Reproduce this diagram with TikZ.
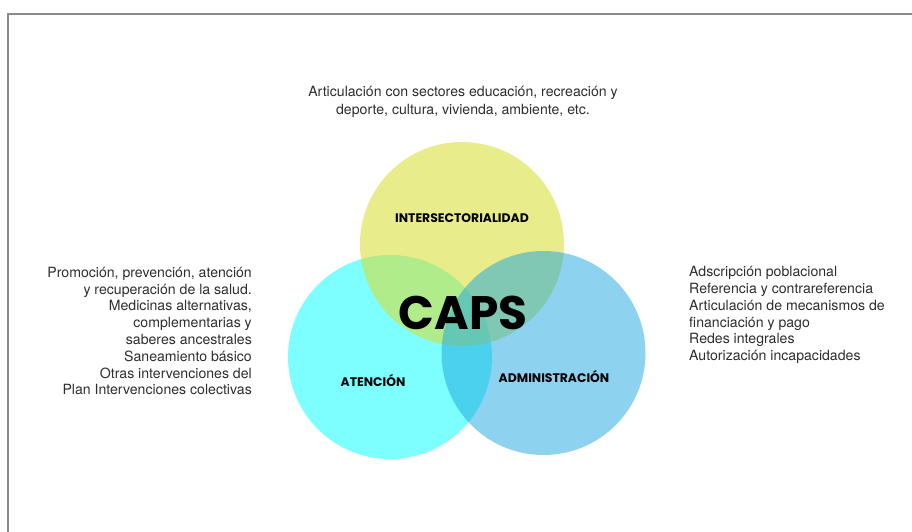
\documentclass[tikz,border=0pt]{standalone}
\usepackage{fontspec}
\setmainfont{TeX Gyre Heros}
\newfontfamily\capsfont{Poppins}
\usepackage{tikz}

\definecolor{framegray}{RGB}{138,138,138}
\definecolor{textgray}{RGB}{45,45,45}
\definecolor{capscyan}{RGB}{125,255,255}
\definecolor{capsyellow}{RGB}{215,222,50}
\definecolor{capsblue}{RGB}{27,165,223}

\tikzset{
  ring/.style={circle, minimum size=204pt, inner sep=0pt},
  ringlabel/.style={font=\capsfont\bfseries\fontsize{12.4}{14}\selectfont, text=black},
  sidetext/.style={font=\fontsize{14.1}{16.8}\selectfont, text=textgray, inner sep=0pt}
}

\begin{document}
\begin{tikzpicture}[x=1pt,y=-1pt]
\useasboundingbox (0,0) rectangle (912,532);

% frame
\draw[framegray, line width=1.7pt] (8.3,532) -- (8.3,13.8) -- (912,13.8);

% circles
\node[ring, fill=capscyan] (ate) at (390,357) {};
\node[ring, fill=capsyellow, fill opacity=.57] (int) at (462,244) {};
\node[ring, fill=capsblue, fill opacity=.5] (adm) at (543.5,353) {};

% labels
\node[ringlabel] (int-label) at (462,218) {INTERSECTORIALIDAD};
\node[ringlabel] (ate-label) at (373,380) {ATENCIÓN};
\node[ringlabel] (adm-label) at (554,376) {ADMINISTRACIÓN};
\node[font=\capsfont\bfseries\fontsize{47}{50}\selectfont] (caps) at (463,313) {CAPS};

% descriptions
\node[sidetext, align=center, font=\fontsize{14.1}{18}\selectfont] (int-text) at (463,102)
  {Articulación con sectores educación, recreación y\\deporte, cultura, vivienda, ambiente, etc.};
\node[sidetext, align=right, anchor=east] (ate-text) at (252,331)
  {Promoción, prevención, atención\\y recuperación de la salud.\\Medicinas alternativas,\\complementarias y\\saberes ancestrales\\Saneamiento básico\\Otras intervenciones del\\Plan Intervenciones colectivas};
\node[sidetext, align=left, anchor=west] (adm-text) at (689,315)
  {Adscripción poblacional\\Referencia y contrareferencia\\Articulación de mecanismos de\\financiación y pago\\Redes integrales\\Autorización incapacidades};
\end{tikzpicture}
\end{document}
